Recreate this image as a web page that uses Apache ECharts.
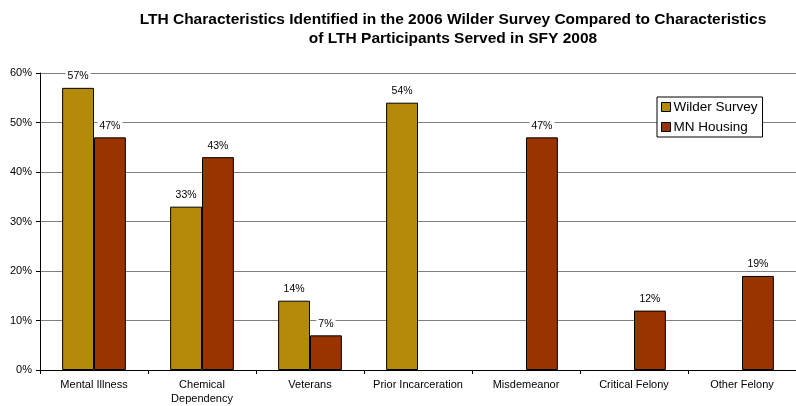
<!DOCTYPE html>
<html><head><meta charset="utf-8">
<script src="https://cdn.jsdelivr.net/npm/echarts@6/dist/echarts.min.js"></script>
<style>html,body{margin:0;padding:0;background:#fff}#c{width:796px;height:406px}</style>
</head><body><div id="c"></div>
<script>
const categories = ['Mental Illness','Chemical\nDependency','Veterans','Prior Incarceration','Misdemeanor','Critical Felony','Other Felony'];
const wilder = [57, 33, 14, 54, null, null, null];
const mnHousing = [47, 43, 7, null, 47, 12, 19];
const yTicks = [0, 10, 20, 30, 40, 50, 60];

const font = 'Liberation Sans, Arial, sans-serif';
const chart = echarts.init(document.getElementById('c'));
const labelCfg = {
  show: true, position: 'top', distance: 6, formatter: p => p.value + '%',
  fontSize: 10.5, color: '#000', fontFamily: font, backgroundColor: '#fff', padding: [0, 2]
};
chart.setOption({
  animation: false,
  title: {
    text: 'LTH Characteristics Identified in the 2006 Wilder Survey Compared to Characteristics\nof LTH Participants Served in SFY 2008',
    left: 448, textAlign: 'center', top: 5,
    textStyle: {fontSize: 15.5, fontWeight: 'bold', fontFamily: font, color: '#000', lineHeight: 19}
  },
  legend: {
    orient: 'vertical', left: 657, top: 97, itemWidth: 9, itemHeight: 9, itemGap: 6, icon: 'rect',
    backgroundColor: '#fff', borderColor: '#000', borderWidth: 1, padding: [3, 5, 3, 4],
    textStyle: {fontSize: 13.5, fontFamily: font, color: '#000', padding: [0, 0, 0, -2], lineHeight: 13},
    data: [
      {name: 'Wilder Survey', itemStyle: {borderColor: '#000', borderWidth: 1}},
      {name: 'MN Housing', itemStyle: {borderColor: '#000', borderWidth: 1}}
    ]
  },
  grid: {left: 40, right: -9, top: 73, bottom: 34, containLabel: false},
  xAxis: {
    type: 'category', data: categories,
    axisLine: {lineStyle: {color: '#000', width: 1}},
    axisTick: {show: true, length: 4, lineStyle: {color: '#000'}},
    axisLabel: {fontSize: 11, fontFamily: font, color: '#000', margin: 8, lineHeight: 14, interval: 0}
  },
  yAxis: {
    type: 'value', min: 0, max: 60, interval: 10,
    axisLine: {show: true, lineStyle: {color: '#000', width: 1}},
    axisTick: {show: true, length: 4, lineStyle: {color: '#000'}},
    axisLabel: {fontSize: 11, fontFamily: font, color: '#000', margin: 8,
      formatter: v => yTicks.includes(v) ? v + '%' : ''},
    splitLine: {lineStyle: {color: '#808080', width: 1}}
  },
  series: [
    {name: 'Wilder Survey', type: 'bar', data: wilder, barGap: '0%', barCategoryGap: '41%',
      itemStyle: {color: '#B38A0A', borderColor: '#000', borderWidth: 1}, label: labelCfg},
    {name: 'MN Housing', type: 'bar', data: mnHousing,
      itemStyle: {color: '#993300', borderColor: '#000', borderWidth: 1}, label: labelCfg}
  ]
});
</script></body></html>
